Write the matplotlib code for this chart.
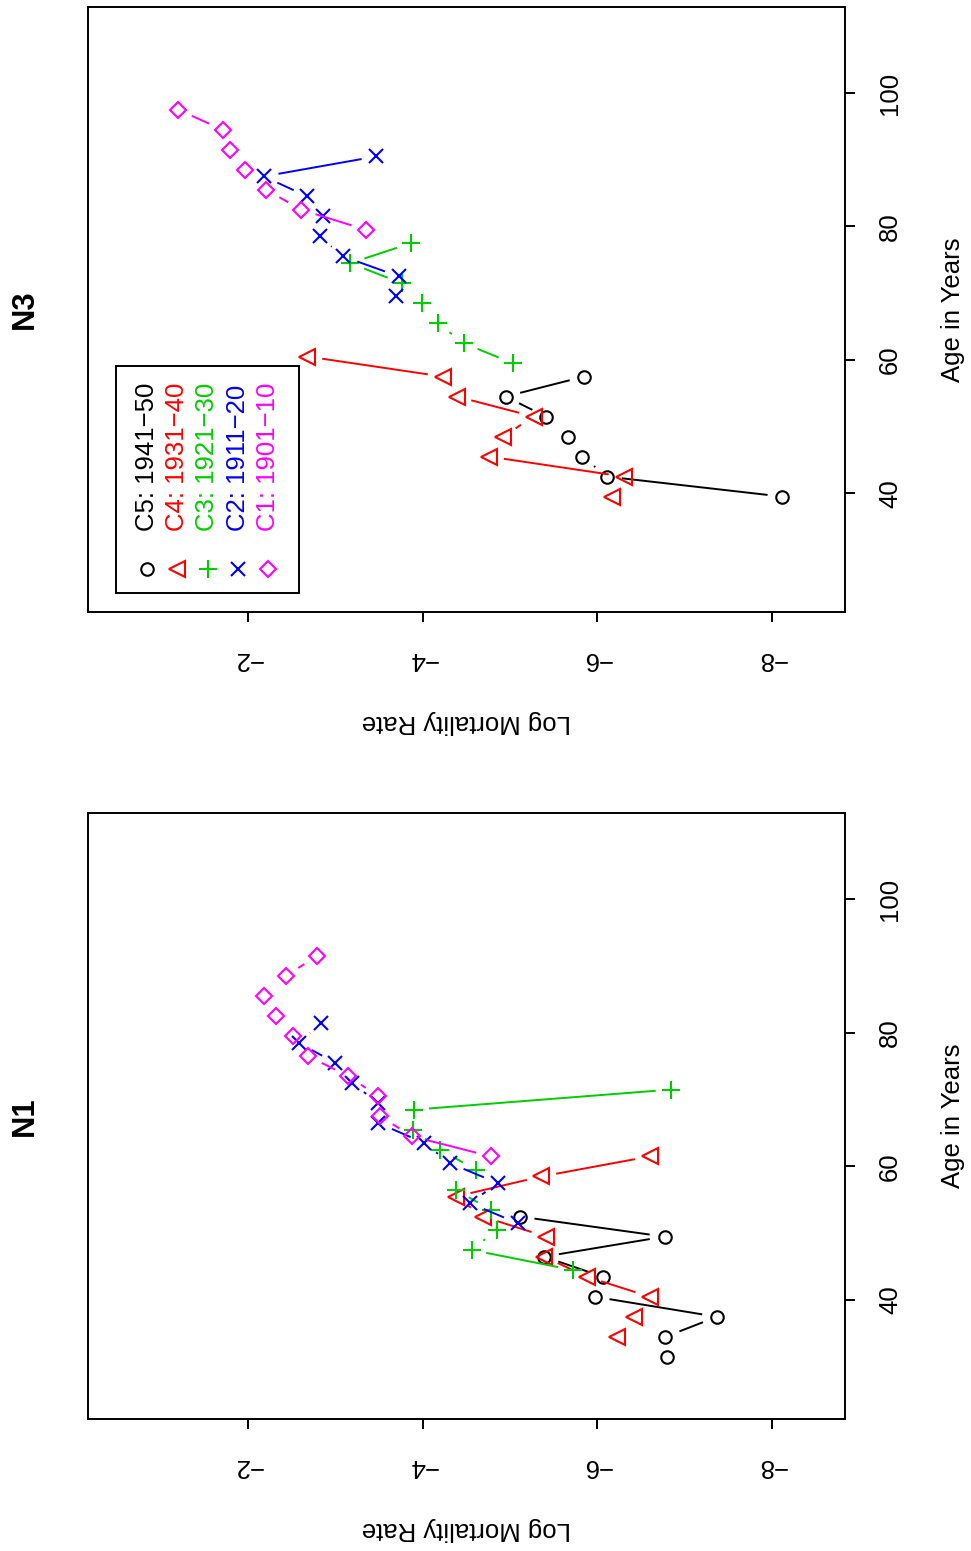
import numpy as np
import matplotlib
matplotlib.use("Agg")
import matplotlib.pyplot as plt
from matplotlib.patches import Rectangle

plt.rcParams['font.family'] = ['Liberation Sans', 'DejaVu Sans']

# cohort labels, colours and plotting symbols
cohorts = ['C5: 1941\u221250', 'C4: 1931\u221240', 'C3: 1921\u221230',
           'C2: 1911\u221220', 'C1: 1901\u221210']
colors = ['black', '#FF0000', '#00CD00', '#0000FF', '#FF00FF']
markers = ['o', '<', '+', 'x', 'D']
msizes = [9, 11.5, 12.5, 10.5, 8.5]

# N1 -- age (years) and log mortality rate for each cohort
n1_age_c5 = [31.5, 34.5, 37.5, 40.5, 43.5, 46.5, 49.5, 52.5]
n1_rate_c5 = [-6.80, -6.78, -7.37, -5.97, -6.06, -5.39, -6.77, -5.11]
n1_age_c4 = [34.5, 37.5, 40.5, 43.5, 46.5, 49.5, 52.5, 55.5, 58.5, 61.5]
n1_rate_c4 = [-6.23, -6.42, -6.60, -5.88, -5.39, -5.41, -4.69, -4.38, -5.36, -6.60]
n1_age_c3 = [44.5, 47.5, 50.5, 53.5, 56.5, 59.5, 62.5, 65.5, 68.5, 71.5]
n1_rate_c3 = [-5.72, -4.56, -4.85, -4.78, -4.38, -4.61, -4.20, -3.89, -3.90, -6.84]
n1_age_c2 = [51.5, 54.5, 57.5, 60.5, 63.5, 66.5, 69.5, 72.5, 75.5, 78.5, 81.5]
n1_rate_c2 = [-5.09, -4.54, -4.86, -4.31, -4.02, -3.49, -3.49, -3.19, -3.00, -2.58, -2.84]
n1_age_c1 = [61.5, 64.5, 67.5, 70.5, 73.5, 76.5, 79.5, 82.5, 85.5, 88.5, 91.5]
n1_rate_c1 = [-4.78, -3.88, -3.51, -3.49, -3.15, -2.69, -2.51, -2.32, -2.18, -2.43, -2.79]

# N3
n3_age_c5 = [39.5, 42.5, 45.5, 48.5, 51.5, 54.5, 57.5]
n3_rate_c5 = [-8.12, -6.11, -5.83, -5.66, -5.41, -4.95, -5.85]
n3_age_c4 = [39.5, 42.5, 45.5, 48.5, 51.5, 54.5, 57.5, 60.5]
n3_rate_c4 = [-6.17, -6.30, -4.76, -4.92, -5.27, -4.39, -4.23, -2.68]
n3_age_c3 = [59.5, 62.5, 65.5, 68.5, 71.5, 74.5, 77.5]
n3_rate_c3 = [-5.03, -4.47, -4.17, -3.99, -3.76, -3.17, -3.87]
n3_age_c2 = [69.5, 72.5, 75.5, 78.5, 81.5, 84.5, 87.5, 90.5]
n3_rate_c2 = [-3.70, -3.73, -3.09, -2.82, -2.86, -2.68, -2.18, -3.47]
n3_age_c1 = [79.5, 82.5, 85.5, 88.5, 91.5, 94.5, 97.5]
n3_rate_c1 = [-3.35, -2.61, -2.21, -1.97, -1.79, -1.71, -1.20]

rate_ticks = [-2, -4, -6, -8]
age_ticks = [40, 60, 80, 100]

n1 = [(n1_age_c5, n1_rate_c5), (n1_age_c4, n1_rate_c4), (n1_age_c3, n1_rate_c3),
      (n1_age_c2, n1_rate_c2), (n1_age_c1, n1_rate_c1)]
n3 = [(n3_age_c5, n3_rate_c5), (n3_age_c4, n3_rate_c4), (n3_age_c3, n3_rate_c3),
      (n3_age_c2, n3_rate_c2), (n3_age_c1, n3_rate_c1)]

BASE = 18.5
LW = 1.4


def gapped_lines(ax, rate, age, color, gap=15):
    # like R type="b": segments stop short of each point
    pts = ax.transData.transform(np.column_stack([rate, age]))
    inv = ax.transData.inverted()
    for p0, p1 in zip(pts[:-1], pts[1:]):
        d = p1 - p0
        L = np.hypot(d[0], d[1])
        if L <= 2 * gap:
            continue
        u = d / L
        seg = inv.transform(np.array([p0 + u * gap, p1 - u * gap]))
        ax.plot(seg[:, 0], seg[:, 1], color=color, lw=LW, solid_capstyle='butt')


def panel(rect, title, series, legend=False):
    ax = fig.add_axes(rect)
    ax.set_xlim(-0.168, -8.836)
    ax.set_ylim(22.2, 112.9)
    for s in ax.spines.values():
        s.set_linewidth(LW)

    ax.set_xticks(rate_ticks)
    ax.set_xticklabels(['\u2212%d' % abs(t) for t in rate_ticks])
    ax.yaxis.tick_right()
    ax.set_yticks(age_ticks)
    ax.set_yticklabels([str(t) for t in age_ticks])
    ax.tick_params(axis='x', direction='out', length=7.5, width=LW, pad=26,
                   labelsize=BASE)
    ax.tick_params(axis='y', direction='out', length=7.5, width=LW, pad=25,
                   labelsize=BASE)
    for lab in ax.get_xticklabels():
        lab.set_rotation(180)
        lab.set_va('center')
    for lab in ax.get_yticklabels():
        lab.set_rotation(90)
        lab.set_ha('center')
        lab.set_va('center')

    for (age, rate), c, m, ms in zip(series, colors, markers, msizes):
        gapped_lines(ax, rate, age, c)
        ax.plot(rate, age, ls='none', marker=m, ms=ms, mfc='none', mec=c,
                mew=1.5, color=c)

    ax.text(0.5, -0.182, 'Log Mortality Rate', rotation=180, ha='center',
            va='center', fontsize=BASE, transform=ax.transAxes)
    ax.text(1.1427, 0.5, 'Age in Years', rotation=90, ha='center',
            va='center', fontsize=BASE, transform=ax.transAxes)
    ax.text(-0.0832, 0.5, title, rotation=90, ha='center', va='center',
            fontsize=BASE * 1.2, fontweight='bold', transform=ax.transAxes)

    if legend:
        W, H = 757.0, 605.0
        ax.add_patch(Rectangle((28 / W, 19 / H), 183.3 / W, 227 / H,
                               transform=ax.transAxes, fill=False,
                               lw=LW, ec='black', zorder=5))
        for i, (lab, c, m, ms) in enumerate(zip(cohorts, colors, markers, msizes)):
            x = (147.3 + 30.1 * i - 88) / W
            ax.plot([x], [(612 - 569.3) / H], transform=ax.transAxes,
                    ls='none', marker=m, ms=ms, mfc='none', mec=c, mew=1.5,
                    clip_on=False)
            ax.text(x, (612 - 531) / H, lab, color=c, rotation=90,
                    rotation_mode='anchor', ha='left', va='center',
                    fontsize=BASE, transform=ax.transAxes)
    return ax


fig = plt.figure(figsize=(9.71, 15.51), dpi=100)
FW, FH = 971.0, 1551.0
panel([88 / FW, 1 - 612 / FH, 757 / FW, 605 / FH], 'N3', n3, legend=True)
panel([88 / FW, 1 - 1419 / FH, 757 / FW, 606 / FH], 'N1', n1)

fig.savefig('out.png', dpi=100)
